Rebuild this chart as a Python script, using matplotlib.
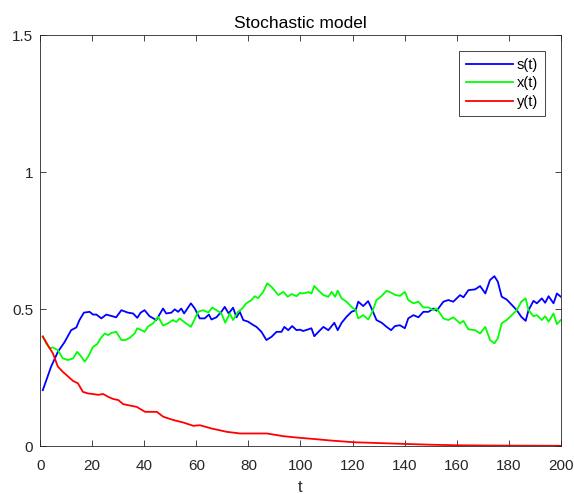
import matplotlib
matplotlib.use('Agg')
import matplotlib.pyplot as plt

plt.rcParams['font.family'] = ['Liberation Sans', 'DejaVu Sans']

# s(t) 读图取值
t_s = [1, 4.2, 6.8, 9.4, 11.9, 13.9, 15.1, 16.8, 19, 20.3, 21.6, 23.5, 25.4, 27.3,
       29.2, 31.2, 33.7, 35.7, 37.3, 38.6, 40.1, 42, 44.6, 47.2, 48.4, 50.4, 51.7,
       53, 54.2, 55.3, 57.9, 59.4, 61.3, 63.2, 64.8, 65.8, 67.7, 69.6, 70.9, 72.4,
       74.1, 75.4, 76.7, 78, 79.9, 81.8, 83.1, 85, 86.9, 88.9, 90.8, 92.7, 93.8,
       95.3, 96.8, 98.5, 99.8, 101, 103, 104.2, 105.3, 106.8, 108.8, 110.7, 113,
       114.3, 115.8, 117.7, 119.6, 121.2, 122.2, 124.1, 126, 127.6, 129.2, 131.2,
       133.1, 134.8, 136.3, 138.2, 140.1, 141.4, 143.4, 145.3, 147.2, 149.2, 151,
       152.3, 154.9, 156.8, 158.7, 161.3, 162.6, 164.5, 167.1, 169, 171, 172.8,
       174.5, 175.8, 177.3, 179.2, 181.2, 183.1, 184.8, 186.5, 187.6, 189.5, 190.8,
       192.7, 194, 195.3, 197.2, 198.5, 200]
s_vals = [0.204, 0.29, 0.344, 0.38, 0.423, 0.433, 0.46, 0.487, 0.49, 0.48, 0.48,
          0.466, 0.48, 0.475, 0.47, 0.496, 0.487, 0.484, 0.468, 0.487, 0.496, 0.474,
          0.46, 0.502, 0.484, 0.487, 0.499, 0.49, 0.502, 0.484, 0.521, 0.502, 0.466,
          0.466, 0.48, 0.462, 0.47, 0.49, 0.508, 0.484, 0.505, 0.47, 0.49, 0.46,
          0.454, 0.442, 0.435, 0.417, 0.387, 0.399, 0.417, 0.417, 0.435, 0.423,
          0.438, 0.423, 0.425, 0.42, 0.426, 0.43, 0.401, 0.416, 0.435, 0.423, 0.45,
          0.423, 0.45, 0.472, 0.49, 0.496, 0.527, 0.511, 0.529, 0.496, 0.46, 0.45,
          0.435, 0.423, 0.438, 0.441, 0.43, 0.466, 0.478, 0.47, 0.49, 0.49, 0.502,
          0.494, 0.527, 0.533, 0.527, 0.551, 0.543, 0.569, 0.572, 0.584, 0.557,
          0.606, 0.62, 0.6, 0.545, 0.535, 0.515, 0.496, 0.472, 0.457, 0.496, 0.53,
          0.521, 0.539, 0.523, 0.547, 0.521, 0.557, 0.545]

# x(t)
t_x = [1, 2.3, 3.6, 4.9, 6.8, 8.7, 10.6, 12.6, 14.2, 15.5, 17.1, 18.4, 20.3, 21.9,
       23.2, 24.8, 26.1, 27.3, 29.2, 31.2, 32.8, 34.4, 36.3, 37.3, 38.9, 40.1, 41.4,
       43.4, 45.3, 47.2, 49.1, 51, 52.3, 53.6, 55.3, 57.9, 60.7, 62.6, 64.6, 66.1,
       67.7, 69.6, 71.1, 72.8, 74.1, 76, 77.6, 79.2, 81.2, 82.4, 83.7, 85.7, 87.2,
       88.9, 91.5, 93.4, 95.1, 96.6, 98.5, 99.8, 101, 103, 104.2, 105.3, 106.8,
       108.8, 110.7, 112, 113.3, 114.3, 115.8, 117.7, 119.6, 121.2, 122.2, 124.1,
       126, 127.6, 129.2, 131.2, 133.1, 134.8, 136.3, 138.2, 140.1, 141.4, 143.4,
       145.3, 147.2, 149.2, 151, 152.3, 154.9, 156.8, 158.7, 161.3, 162.6, 164.5,
       167.1, 169, 171, 172.8, 174.5, 175.8, 177.3, 179.2, 181.2, 183.1, 184.8,
       186.5, 187.6, 189.5, 190.8, 192.7, 194, 195.3, 197.2, 198.5, 200]
x_vals = [0.40, 0.375, 0.357, 0.36, 0.35, 0.32, 0.314, 0.32, 0.344, 0.33, 0.308,
          0.326, 0.362, 0.372, 0.393, 0.411, 0.405, 0.413, 0.417, 0.387, 0.387,
          0.395, 0.411, 0.43, 0.423, 0.417, 0.436, 0.448, 0.472, 0.44, 0.448, 0.46,
          0.453, 0.466, 0.453, 0.435, 0.49, 0.496, 0.487, 0.506, 0.496, 0.484, 0.45,
          0.484, 0.46, 0.49, 0.502, 0.521, 0.533, 0.547, 0.54, 0.563, 0.594, 0.581,
          0.551, 0.563, 0.545, 0.555, 0.547, 0.559, 0.557, 0.562, 0.557, 0.584,
          0.569, 0.551, 0.545, 0.563, 0.545, 0.567, 0.539, 0.527, 0.508, 0.496,
          0.466, 0.478, 0.462, 0.49, 0.533, 0.548, 0.567, 0.56, 0.552, 0.548, 0.563,
          0.533, 0.521, 0.527, 0.506, 0.506, 0.496, 0.502, 0.466, 0.46, 0.47, 0.448,
          0.457, 0.426, 0.423, 0.411, 0.435, 0.387, 0.375, 0.393, 0.448, 0.46, 0.478,
          0.496, 0.527, 0.539, 0.496, 0.474, 0.478, 0.46, 0.474, 0.454, 0.484, 0.445,
          0.46]

# y(t)
t_y = [1, 2.9, 4.9, 6.8, 8.7, 10.6, 12.6, 14.5, 16.4, 18.4, 20.3, 22.2, 24.2, 26.1,
       28, 30, 31.9, 37.1, 40.3, 44.8, 47.3, 51.2, 55, 58.8, 61.4, 65.9, 71.7, 76.8,
       83.2, 87.1, 93.5, 99.9, 105, 112, 120.4, 127, 139.6, 150, 160, 173, 185, 200]
y_vals = [0.40, 0.369, 0.338, 0.29, 0.271, 0.255, 0.238, 0.229, 0.198, 0.192, 0.19,
          0.187, 0.19, 0.18, 0.172, 0.168, 0.153, 0.143, 0.125, 0.125, 0.107, 0.095,
          0.086, 0.074, 0.076, 0.064, 0.052, 0.046, 0.046, 0.046, 0.036, 0.030,
          0.026, 0.020, 0.014, 0.012, 0.008, 0.005, 0.003, 0.002, 0.0015, 0.001]

fig = plt.figure(figsize=(5.74, 4.94), dpi=100)
ax = fig.add_axes([0.070, 0.097, 0.907, 0.832])

ax.plot(t_s, s_vals, color=(0, 0, 1), lw=1.3, label='s(t)')
ax.plot(t_x, x_vals, color=(0, 1, 0), lw=1.3, label='x(t)')
ax.plot(t_y, y_vals, color=(1, 0, 0), lw=1.3, label='y(t)')

ax.set_xlim(0, 200)
ax.set_ylim(0, 1.5)
ax.set_xticks(range(0, 201, 20))
ax.set_yticks([0, 0.5, 1, 1.5])
ax.set_yticklabels(['0', '0.5', '1', '1.5'])
gray = '#262626'
ax.tick_params(direction='in', top=True, right=True, length=4, width=0.6,
               colors=gray, labelsize=11)
ax.tick_params(axis='x', pad=9)
ax.tick_params(axis='y', pad=5)
for sp in ax.spines.values():
    sp.set_color(gray)
    sp.set_linewidth(0.6)
ax.set_title('Stochastic model', fontsize=12.5, color='k', pad=5)
ax.set_xlabel('t', fontsize=12, color=gray, labelpad=5)

leg = ax.legend(loc='upper right', bbox_to_anchor=(0.97, 0.962), fontsize=10.5,
                handlelength=3.2, fancybox=False, framealpha=1, borderpad=0.5,
                labelspacing=0.3, handletextpad=0.25, borderaxespad=0)
leg.get_frame().set_edgecolor(gray)
leg.get_frame().set_linewidth(0.6)

fig.savefig('out.png', dpi=100)
